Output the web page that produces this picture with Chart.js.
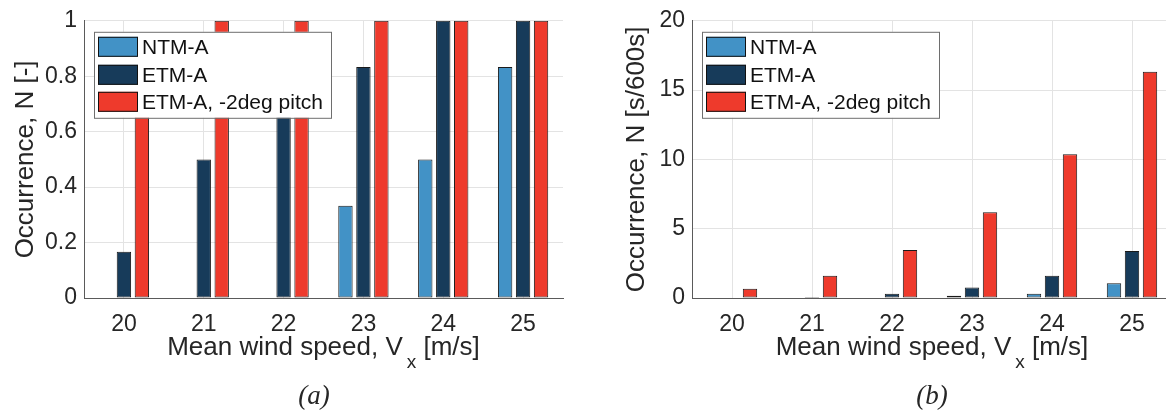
<!DOCTYPE html>
<html>
<head>
<meta charset="utf-8">
<script src="https://cdn.jsdelivr.net/npm/chart.js@4.4.1/dist/chart.umd.min.js"></script>
<style>
  html, body { margin: 0; padding: 0; background: #fff; overflow: hidden; }
  #wrap { position: relative; width: 1166px; height: 410px; overflow: hidden; background: #fff; }
  .cv { position: absolute; top: 0; }
  .cap { position: absolute; font-family: "Liberation Serif", "DejaVu Serif", serif; font-style: italic;
         font-size: 27px; line-height: 27px; color: #262626; transform: translateX(-50%); white-space: nowrap; }
</style>
</head>
<body>
<div id="wrap">
  <canvas id="c1" class="cv" style="left:0px"></canvas>
  <canvas id="c2" class="cv" style="left:583px"></canvas>
  <div class="cap" style="left:314px; top:382px;">(a)</div>
  <div class="cap" style="left:932px; top:382px;">(b)</div>
</div>
<script>
// ---------------- DATA ----------------
const categories = ['20', '21', '22', '23', '24', '25'];
const seriesNames = ['NTM-A', 'ETM-A', 'ETM-A, -2deg pitch'];

// (a) Occurrence, N [-]
const ntmA_frac      = [0, 0, 0, 0.333, 0.5, 0.833];
const etmA_frac      = [0.167, 0.5, 0.667, 0.833, 1, 1];
const etmPitch_frac  = [0.833, 1, 1, 1, 1, 1];

// (b) Occurrence, N [s/600s]
const ntmA_rate      = [0, 0, 0, 0.17, 0.31, 1.07];
const etmA_rate      = [0, 0.08, 0.31, 0.76, 1.6, 3.39];
const etmPitch_rate  = [0.67, 1.6, 3.46, 6.18, 10.38, 16.32];

const yTicksA = [0, 0.2, 0.4, 0.6, 0.8, 1];
const yTicksB = [0, 5, 10, 15, 20];

// ---------------- STYLE ----------------
const COLORS = ['#4292c6', '#173b5a', '#ee3a2c'];
const TXT = '#262626';
const FONT = '"Liberation Sans", Arial, Helvetica, sans-serif';
const GRID = '#e3e3e3';
const AXIS = '#5a5a5a';

function makeDatasets(vals) {
  return vals.map((v, i) => ({
    label: seriesNames[i],
    data: v,
    backgroundColor: COLORS[i],
    borderColor: '#1a1a1a',
    borderWidth: 1,
    borderSkipped: false,
    categoryPercentage: 0.675,
    barPercentage: 0.8
  }));
}

const decorPlugin = {
  id: 'decor',
  afterDraw(chart, args, opts) {
    const ctx = chart.ctx;
    const a = chart.chartArea;
    ctx.save();
    // ---- legend box ----
    const lx = a.left + 10, ly = a.top + 11, lw = 237, lh = 86;
    ctx.fillStyle = '#ffffff';
    ctx.fillRect(lx, ly, lw, lh);
    ctx.strokeStyle = '#6e6e6e';
    ctx.lineWidth = 1;
    ctx.strokeRect(lx + 0.5, ly + 0.5, lw, lh);
    const rowTops = [5, 33, 60];
    ctx.font = '21px ' + FONT;
    ctx.textBaseline = 'middle';
    ctx.textAlign = 'left';
    chart.data.datasets.forEach((ds, i) => {
      const sy = ly + rowTops[i];
      ctx.fillStyle = ds.backgroundColor;
      ctx.fillRect(lx + 4, sy, 40, 20);
      ctx.strokeStyle = '#111';
      ctx.strokeRect(lx + 4.5, sy + 0.5, 39, 19);
      ctx.fillStyle = '#111';
      ctx.fillText(ds.label, lx + 48, sy + 11);
    });
    // ---- x title with subscript ----
    const cx = (a.left + a.right) / 2 + (opts.xShift || 0);
    const by = 355;
    const mainF = '26px ' + FONT, subF = '19px ' + FONT;
    const t1 = 'Mean wind speed, V', t2 = 'x', t3 = ' [m/s]';
    ctx.font = mainF; const w1 = ctx.measureText(t1).width; const w3 = ctx.measureText(t3).width;
    ctx.font = subF; const w2 = ctx.measureText(t2).width;
    const gap = 4;
    const total = w1 + gap + w2 + w3;
    let x = cx - total / 2;
    ctx.fillStyle = TXT;
    ctx.textBaseline = 'alphabetic';
    ctx.textAlign = 'left';
    ctx.font = mainF; ctx.fillText(t1, x, by); x += w1 + gap;
    ctx.font = subF; ctx.fillText(t2, x, by + 13); x += w2;
    ctx.font = mainF; ctx.fillText(t3, x, by);
    // ---- y title ----
    ctx.translate(opts.yTitleX, (a.top + a.bottom) / 2);
    ctx.rotate(-Math.PI / 2);
    ctx.textAlign = 'center';
    ctx.textBaseline = 'alphabetic';
    ctx.font = mainF;
    ctx.fillText(opts.yTitle, 0, 0);
    ctx.restore();
  }
};

function makeChart(id, width, vals, yTicks, yMax, yAxisW, padRight, yTitle, yTitleX) {
  const cv = document.getElementById(id);
  cv.width = width; cv.height = 410;
  cv.style.width = width + 'px'; cv.style.height = '410px';
  return new Chart(cv, {
    type: 'bar',
    data: { labels: categories, datasets: makeDatasets(vals) },
    options: {
      responsive: false,
      animation: false,
      devicePixelRatio: 1,
      layout: { padding: { left: 0, right: padRight, top: 18, bottom: 0 } },
      plugins: {
        legend: { display: false },
        tooltip: { enabled: false },
        decor: { yTitle: yTitle, yTitleX: yTitleX }
      },
      scales: {
        x: {
          offset: true,
          grid: { display: true, offset: false, color: GRID, lineWidth: 1, drawTicks: false },
          border: { display: true, color: AXIS, width: 1 },
          ticks: { color: TXT, font: { family: FONT, size: 23 }, padding: 13, maxRotation: 0 },
          afterFit(s) { s.height = 112; }
        },
        y: {
          min: 0, max: yMax,
          afterBuildTicks(s) { s.ticks = yTicks.map(v => ({ value: v })); },
          grid: { display: true, color: GRID, lineWidth: 1, drawTicks: false },
          border: { display: true, color: AXIS, width: 1 },
          ticks: {
            color: TXT, font: { family: FONT, size: 23 }, padding: 7,
            callback: (v) => String(Math.round(v * 1000) / 1000)
          },
          afterFit(s) { s.width = yAxisW; }
        }
      }
    },
    plugins: [decorPlugin]
  });
}

makeChart('c1', 583, [ntmA_frac, etmA_frac, etmPitch_frac], yTicksA, 1, 84, 20, 'Occurrence, N [-]', 33);
makeChart('c2', 600, [ntmA_rate, etmA_rate, etmPitch_rate], yTicksB, 20, 109, 11, 'Occurrence, N [s/600s]', 61);
</script>
</body>
</html>
